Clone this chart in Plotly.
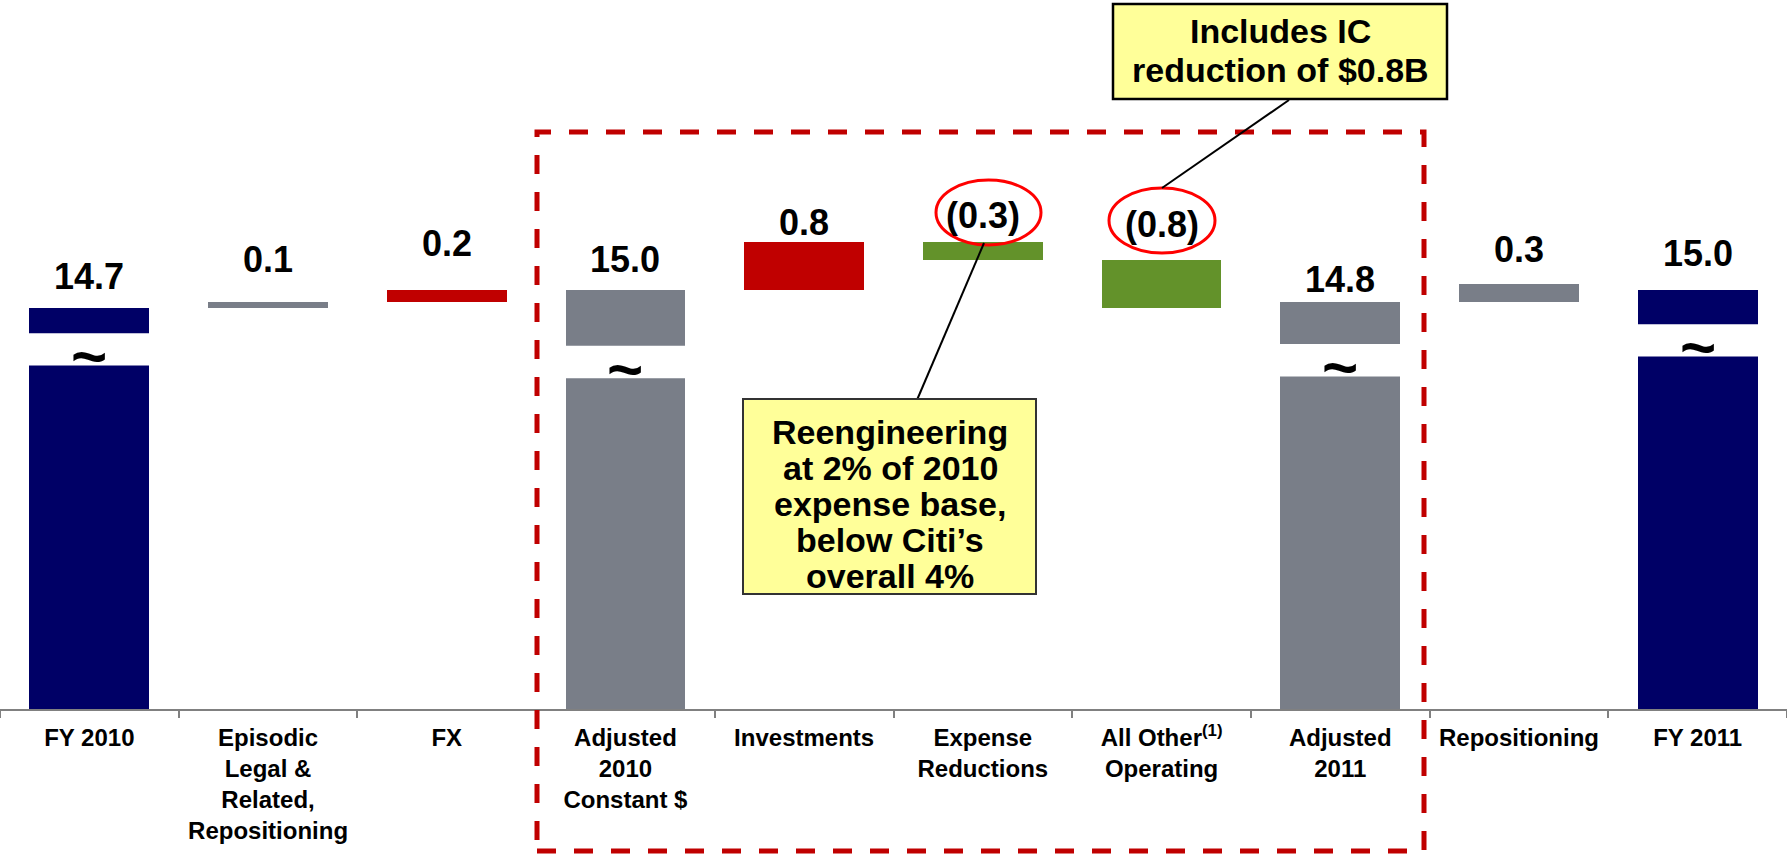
import plotly.graph_objects as go

# ---------------- data ----------------
categories = [
    "FY 2010",
    "Episodic<br>Legal &<br>Related,<br>Repositioning",
    "FX",
    "Adjusted<br>2010<br>Constant $",
    "Investments",
    "Expense<br>Reductions",
    "All Other<sup>(1)</sup><br>Operating",
    "Adjusted<br>2011",
    "Repositioning",
    "FY 2011",
]
values = [14.7, 0.1, 0.2, 15.0, 0.8, -0.3, -0.8, 14.8, 0.3, 15.0]
measures = ["total", "relative", "relative", "total", "relative",
            "relative", "relative", "total", "relative", "total"]
value_labels = ["14.7", "0.1", "0.2", "15.0", "0.8", "(0.3)", "(0.8)", "14.8", "0.3", "15.0"]
kinds = ["reported", "adjustment", "increase", "adjusted", "increase",
         "decrease", "decrease", "adjusted", "adjustment", "reported"]
callout_ic = ["Includes IC", "reduction of $0.8B"]
callout_reeng = ["Reengineering", "at 2% of 2010", "expense base,", "below Citi\u2019s", "overall 4%"]

# ---------------- style ----------------
W, H = 1787, 856
PLOT_BOTTOM = 709          # pixel row of the category axis
Y_RANGE = [8.02, 19.83]    # truncated value axis (axis break shown by "~")
FONT = "Liberation Sans, Arial, sans-serif"
COLORS = {
    "reported": "#000066",
    "adjustment": "#797E88",
    "adjusted": "#797E88",
    "increase": "#C00000",
    "decrease": "#63922A",
}
BAR_WIDTH = 0.67
LABEL_SHIFT = [9, 20, 24, 8, -3, 4, 13, 0, 12, 14]
BREAK_TOP = {0: 14.28, 3: 14.07, 7: 14.10, 9: 14.43}
BREAK_GAP = 0.54
TILDE_OFFSET = 0.37


def px(x):
    return x / W


def py(y):
    return (PLOT_BOTTOM - y) / PLOT_BOTTOM


# ---------------- waterfall geometry from the values ----------------
bases, heights, tops = [], [], []
running = 0.0
for v, m in zip(values, measures):
    if m == "total":
        bases.append(0.0)
        heights.append(v)
        running = v
    else:
        bases.append(running + min(0.0, v))
        heights.append(abs(v))
        running += v
    tops.append(bases[-1] + heights[-1])

fig = go.Figure(
    go.Bar(
        x=categories,
        y=heights,
        base=bases,
        width=BAR_WIDTH,
        marker=dict(color=[COLORS[k] for k in kinds], line=dict(width=0)),
        hoverinfo="skip",
    )
)

shapes = []
annotations = []

# axis breaks on the tall bars
for i, top in BREAK_TOP.items():
    shapes.append(dict(type="rect", xref="x", yref="y", layer="above",
                       x0=i - 0.37, x1=i + 0.37, y0=top - BREAK_GAP, y1=top,
                       fillcolor="white", line=dict(width=0)))
    annotations.append(dict(x=i, y=top - TILDE_OFFSET, xref="x", yref="y",
                            text="~", showarrow=False, yanchor="middle",
                            font=dict(family=FONT, size=62, color="black", weight="bold")))

# value labels
for i, lab in enumerate(value_labels):
    annotations.append(dict(x=i, y=tops[i], xref="x", yref="y", text=lab,
                            showarrow=False, yanchor="bottom", yshift=LABEL_SHIFT[i],
                            font=dict(family=FONT, size=36, color="black", weight="bold")))

# red dashed frame around the adjusted section
shapes.append(dict(type="rect", xref="paper", yref="paper", layer="above",
                   x0=px(537), x1=px(1424), y0=py(851), y1=py(132),
                   line=dict(color="#C00000", width=5, dash="19px,18px"),
                   fillcolor="rgba(0,0,0,0)"))

# red ellipses around the reductions
for (x0, x1, y0, y1) in [(936, 1041, 180, 245), (1109, 1215, 188, 253)]:
    shapes.append(dict(type="circle", xref="paper", yref="paper", layer="above",
                       x0=px(x0), x1=px(x1), y0=py(y1), y1=py(y0),
                       line=dict(color="#FF0000", width=3)))

# connector lines
for (x0, y0, x1, y1) in [(984, 243, 917, 400), (1162, 188, 1289, 100)]:
    shapes.append(dict(type="line", xref="paper", yref="paper", layer="above",
                       x0=px(x0), y0=py(y0), x1=px(x1), y1=py(y1),
                       line=dict(color="black", width=2)))

# callout boxes
shapes.append(dict(type="rect", xref="paper", yref="paper", layer="above",
                   x0=px(743), x1=px(1036), y0=py(594), y1=py(399),
                   fillcolor="#FFFF99", line=dict(color="#333333", width=2)))
shapes.append(dict(type="rect", xref="paper", yref="paper", layer="above",
                   x0=px(1113), x1=px(1447), y0=py(99), y1=py(4),
                   fillcolor="#FFFF99", line=dict(color="black", width=2.5)))

for k, line in enumerate(callout_reeng):
    annotations.append(dict(x=px(890), y=py(432 + 36 * k), xref="paper", yref="paper",
                            text=line, showarrow=False, yanchor="middle", xanchor="center",
                            font=dict(family=FONT, size=34, color="black", weight="bold")))
for k, line in enumerate(callout_ic):
    annotations.append(dict(x=px(1280), y=py(31 + 39 * k), xref="paper", yref="paper",
                            text=line, showarrow=False, yanchor="middle", xanchor="center",
                            font=dict(family=FONT, size=34, color="black", weight="bold")))

fig.update_layout(
    width=W, height=H, autosize=False,
    margin=dict(l=0, r=0, t=0, b=H - PLOT_BOTTOM, pad=0),
    paper_bgcolor="white", plot_bgcolor="white",
    showlegend=False,
    bargap=0,
    shapes=shapes,
    annotations=annotations,
    xaxis=dict(
        type="category",
        range=[-0.5, len(categories) - 0.5],
        showline=True, linecolor="#808080", linewidth=2,
        ticks="outside", tickson="boundaries", ticklen=7,
        tickcolor="#808080", tickwidth=1.5,
        showgrid=False, zeroline=False,
        tickfont=dict(family=FONT, size=24, color="black", weight="bold"),
        ticklabelstandoff=6,
    ),
    yaxis=dict(range=Y_RANGE, visible=False, showgrid=False, zeroline=False),
)

fig.write_html("out.html", config={"displayModeBar": False},
               post_script="document.body.style.margin='0';")
